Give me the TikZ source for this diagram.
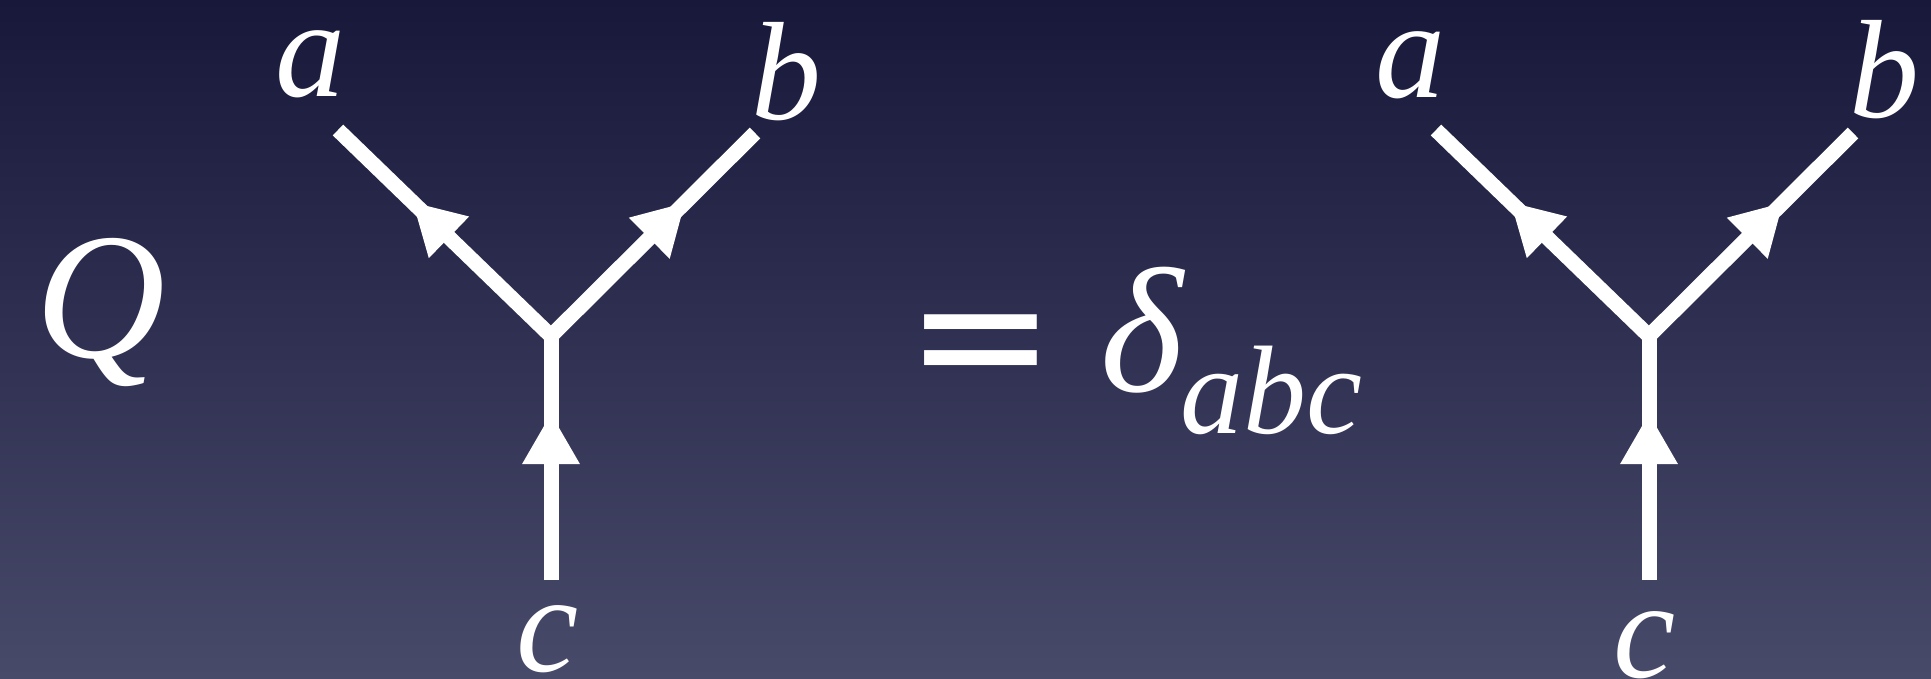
\documentclass[tikz,border=0pt]{standalone}
\usepackage{fontspec}
\setmainfont{Liberation Serif}
\newfontfamily\eqfont{DejaVu Sans}
\usetikzlibrary{arrows.meta,decorations.markings}
\definecolor{bgtop}{RGB}{24,24,58}
\definecolor{bgbot}{RGB}{72,74,106}

\tikzset{
  leg/.style={white,line width=15pt},
  legarrow/.style={postaction={decorate},decoration={markings,
    mark=at position #1 with {\arrow{Triangle[length=51pt,width=54pt]}}}},
  yarrows/.style 2 args={postaction={decorate},decoration={markings,
    mark=at position #1 with {\arrowreversed{Triangle[length=51pt,width=54pt]}},
    mark=at position #2 with {\arrow{Triangle[length=51pt,width=54pt]}}}},
  lbl/.style={white,inner sep=0pt,anchor=base,font=\fontsize{140}{140}\selectfont\itshape}
}

\begin{document}
\begin{tikzpicture}[x=1pt,y=-1pt]
\shade[top color=bgtop,bottom color=bgbot](0,0)rectangle(1931,678);
\useasboundingbox(0,0)rectangle(1931,678);
% left vertex
\coordinate(j1)at(551,336);
\coordinate(a1)at(338,130);
\coordinate(b1)at(755,133);
\coordinate(c1)at(551,580);
\draw[leg,yarrows={0.177}{0.832}](a1)--(j1)--(b1);
\draw[leg,legarrow=0.684](c1)--(j1);
\node[lbl](la1)at(310,96){a};
\node[lbl](lb1)at(786,119){b};
\node[lbl](lc1)at(548,671){c};
\node[lbl,font=\fontsize{180}{180}\selectfont\itshape](q)at(100,357){Q};
% right vertex
\coordinate(j2)at(1649,336);
\coordinate(a2)at(1436,130);
\coordinate(b2)at(1853,133);
\coordinate(c2)at(1649,580);
\draw[leg,yarrows={0.177}{0.832}](a2)--(j2)--(b2);
\draw[leg,legarrow=0.684](c2)--(j2);
\node[lbl](la2)at(1410,97){a};
\node[lbl](lb2)at(1884,117){b};
\node[lbl](lc2)at(1645,677){c};
% right hand side
\node[lbl,font=\eqfont\fontsize{180}{180}\selectfont\upshape](eq)at(981,396){=};
\node[lbl,anchor=base west,font=\fontsize{178}{178}\selectfont\itshape](delta)at(1100,391){δ};
\node[lbl,anchor=base west,font=\fontsize{126}{126}\selectfont\itshape](sub)at(1180,433){abc};
\end{tikzpicture}
\end{document}
